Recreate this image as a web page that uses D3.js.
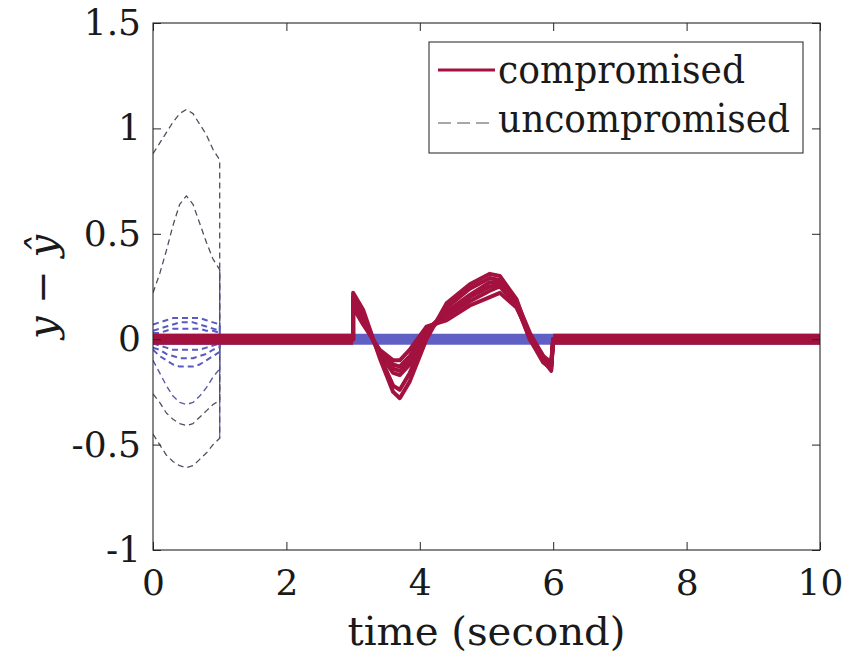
<!DOCTYPE html>
<html>
  <head>
    <style>
      body {
        margin: 0;
        background: #fff;
      }
      .frame {
        fill: none;
        stroke: #262626;
        stroke-width: 1.1px;
      }
      .axis path.domain {
        display: none;
      }
      .axis line {
        stroke: #262626;
        stroke-width: 1px;
      }
      .axis text {
        fill: #1a1a1a;
      }
    </style>
  </head>
  <body>
    <svg id="chart" width="850" height="657"></svg>
    <script src="https://d3js.org/d3.v7.min.js"></script>
    <script>
    // tick values
      var x_ticks = [0, 2, 4, 6, 8, 10];
      var y_ticks = [-1, -0.5, 0, 0.5, 1, 1.5];

    // uncompromised runs: dashed, only over 0..1 s, then back to 0
      var t_uncomp = [0, 0.1, 0.2, 0.3, 0.4, 0.5, 0.6, 0.7, 0.8, 0.9, 1, 1];
      var uncomp_1  = [0.88, 0.93, 0.98, 1.03, 1.07, 1.09, 1.07, 1.02, 0.97, 0.9, 0.85, 0];
      var uncomp_2  = [0.22, 0.31, 0.42, 0.54, 0.64, 0.68, 0.64, 0.55, 0.46, 0.38, 0.33, 0];
      var uncomp_3  = [-0.45, -0.5, -0.55, -0.58, -0.6, -0.61, -0.6, -0.57, -0.54, -0.5, -0.47, 0];
      var uncomp_4  = [-0.26, -0.3, -0.35, -0.38, -0.4, -0.41, -0.4, -0.37, -0.34, -0.31, -0.29, 0];
      var uncomp_5  = [-0.1, -0.16, -0.22, -0.27, -0.3, -0.31, -0.3, -0.27, -0.23, -0.18, -0.14, 0];
      var uncomp_6  = [0.07, 0.08, 0.09, 0.1, 0.1, 0.1, 0.1, 0.1, 0.09, 0.08, 0.07, 0];
      var uncomp_7  = [0.04, 0.05, 0.06, 0.07, 0.08, 0.08, 0.08, 0.07, 0.06, 0.05, 0.04, 0];
      var uncomp_8  = [0.03, 0.03, 0.04, 0.05, 0.05, 0.05, 0.05, 0.05, 0.04, 0.04, 0.03, 0];
      var uncomp_9  = [-0.02, -0.03, -0.04, -0.05, -0.05, -0.05, -0.05, -0.05, -0.04, -0.03, -0.02, 0];
      var uncomp_10 = [-0.04, -0.05, -0.07, -0.08, -0.09, -0.09, -0.09, -0.08, -0.07, -0.05, -0.04, 0];
      var uncomp_11 = [-0.05, -0.08, -0.1, -0.12, -0.13, -0.13, -0.13, -0.12, -0.1, -0.08, -0.06, 0];

    // uncompromised residual after 1 s (thin band around zero)
      var t_uncomp_band = [0, 10];
      var uncomp_band = [0, 0];
      var t_uncomp_jump = [1, 1];
      var uncomp_jump = [0.33, -0.47];

    // compromised runs: attack between 3 and 6 s
      var t_comp = [0, 3, 3, 3.15, 3.4, 3.6, 3.7, 3.85, 4.1, 4.4, 4.75, 5.05, 5.2, 5.45, 5.65, 5.85, 5.97, 6, 10];
      var comp_1 = [0, 0, 0.22, 0.14, -0.09, -0.25, -0.28, -0.2, 0, 0.17, 0.26, 0.31, 0.3, 0.19, 0.01, -0.1, -0.15, 0, 0];
      var comp_2 = [0, 0, 0.2, 0.12, -0.08, -0.22, -0.24, -0.16, 0.02, 0.15, 0.24, 0.29, 0.28, 0.17, 0, -0.11, -0.14, 0, 0];
      var comp_3 = [0, 0, 0.18, 0.1, -0.07, -0.16, -0.17, -0.12, 0.04, 0.13, 0.21, 0.27, 0.27, 0.16, 0, -0.1, -0.13, 0, 0];
      var comp_4 = [0, 0, 0.16, 0.08, -0.06, -0.12, -0.13, -0.08, 0.05, 0.11, 0.18, 0.23, 0.25, 0.16, 0.01, -0.09, -0.12, 0, 0];
      var comp_5 = [0, 0, 0.15, 0.07, -0.05, -0.1, -0.1, -0.05, 0.06, 0.09, 0.16, 0.2, 0.22, 0.15, 0.02, -0.08, -0.11, 0, 0];
      var comp_6 = [0, 0, 0.17, 0.09, -0.07, -0.14, -0.15, -0.1, 0.03, 0.12, 0.2, 0.25, 0.26, 0.18, 0.03, -0.08, -0.13, 0, 0];
    // noisy zero band of the compromised runs outside the attack window
      var t_comp_band_a = [0, 3];
      var t_comp_band_b = [6, 10];
      var comp_band = [0, 0];

      var legend_labels = ["compromised", "uncompromised"];

      var serif = "'DejaVu Serif', serif";

    //plot box
      var margin = {left: 153, right: 30, top: 23, bottom: 107},
          width = 850 - margin.left - margin.right,
          height = 657 - margin.top - margin.bottom;

      var x_scale = d3.scaleLinear().domain([0, 10]).range([0, width]);
      var y_scale = d3.scaleLinear().domain([-1, 1.5]).range([height, 0]);

      var line_generator = d3.line()
        .x(d => x_scale(d[0]))
        .y(d => y_scale(d[1]));

      var svg = d3.select("#chart");
      var g = svg.append("g")
          .attr("transform", "translate(" + [margin.left, margin.top] + ")");

      g.append("clipPath").attr("id", "clip")
        .append("rect").attr("width", width).attr("height", height);
      var plot = g.append("g").attr("clip-path", "url(#clip)");

      function draw_line(t, v, color, w, dash) {
        plot.append("path")
            .datum(d3.zip(t, v))
            .attr("d", line_generator)
            .style("fill", "none")
            .style("stroke", color)
            .style("stroke-width", w + "px")
            .style("stroke-linejoin", "round")
            .style("stroke-dasharray", dash || null);
      }

    //blue residual band drawn first, red covers most of it
      draw_line(t_uncomp_band, uncomp_band, "#6060c4", 11);
      draw_line(t_uncomp_jump, uncomp_jump, "#5b5bc0", 1.2);

      var big_uncomp = [uncomp_1, uncomp_2, uncomp_3, uncomp_4];
      big_uncomp.forEach(v => draw_line(t_uncomp, v, "#4f4f60", 1.3, "6,4"));
      draw_line(t_uncomp, uncomp_5, "#5a5aa8", 1.4, "6,4");
      var small_uncomp = [uncomp_6, uncomp_7, uncomp_8, uncomp_9, uncomp_10, uncomp_11];
      small_uncomp.forEach(v => draw_line(t_uncomp, v, "#5a5ac0", 2, "6,4"));

      draw_line(t_comp_band_a, comp_band, "#a3123f", 11);
      draw_line(t_comp_band_b, comp_band, "#a3123f", 11);
      [comp_5, comp_4, comp_6, comp_3, comp_2, comp_1].forEach(v => draw_line(t_comp, v, "#a3123f", 4));

    //axes, ticks pointing inward on all four sides
      g.append("g").attr("class", "axis")
          .attr("transform", "translate(0," + height + ")")
          .call(d3.axisBottom(x_scale).tickValues(x_ticks).tickSizeInner(-8).tickSizeOuter(0).tickPadding(19).tickFormat(d => d));
      g.append("g").attr("class", "axis")
          .call(d3.axisTop(x_scale).tickValues(x_ticks).tickSizeInner(-8).tickSizeOuter(0).tickFormat(""));
      g.append("g").attr("class", "axis")
          .call(d3.axisLeft(y_scale).tickValues(y_ticks).tickSizeInner(-8).tickSizeOuter(0).tickPadding(12).tickFormat(d => d));
      g.append("g").attr("class", "axis")
          .attr("transform", "translate(" + width + ",0)")
          .call(d3.axisRight(y_scale).tickValues(y_ticks).tickSizeInner(-8).tickSizeOuter(0).tickFormat(""));

      g.selectAll(".axis").attr("font-family", serif).attr("font-size", 36);

      g.append("rect").attr("class", "frame")
          .attr("width", width).attr("height", height);

    //axis labels
      svg.append("text")
          .attr("x", margin.left + width / 2)
          .attr("y", 645)
          .attr("text-anchor", "middle")
          .attr("textLength", 278)
          .attr("lengthAdjust", "spacingAndGlyphs")
          .attr("font-family", serif)
          .attr("font-size", 40)
          .style("fill", "#1a1a1a")
          .text("time (second)");

      svg.append("text")
          .attr("transform", "translate(56,287) rotate(-90)")
          .attr("text-anchor", "middle")
          .attr("font-family", serif)
          .attr("font-size", 40)
          .style("font-style", "italic")
          .style("fill", "#1a1a1a")
          .text("y \u2212 \u0177");

    //legend
      var legend = svg.append("g").attr("transform", "translate(429,42)");
      legend.append("rect")
          .attr("width", 374).attr("height", 111)
          .style("fill", "#fff").style("stroke", "#333").style("stroke-width", "1.1px");
      legend.append("line")
          .attr("x1", 9).attr("x2", 66).attr("y1", 28).attr("y2", 28)
          .style("stroke", "#a3123f").style("stroke-width", "3px");
      legend.append("line")
          .attr("x1", 9).attr("x2", 66).attr("y1", 81).attr("y2", 81)
          .style("stroke", "#4f4f60").style("stroke-width", "1.2px")
          .style("stroke-dasharray", "13,6");
      legend.selectAll("text.lab")
          .data(legend_labels)
        .enter().append("text")
          .attr("class", "lab")
          .attr("x", 69)
          .attr("y", (d, i) => 41 + i * 49)
          .attr("textLength", (d, i) => i ? 292 : 247)
          .attr("lengthAdjust", "spacingAndGlyphs")
          .attr("font-family", serif)
          .attr("font-size", 40)
          .style("fill", "#1a1a1a")
          .text(d => d);
    </script>
  </body>
</html>
